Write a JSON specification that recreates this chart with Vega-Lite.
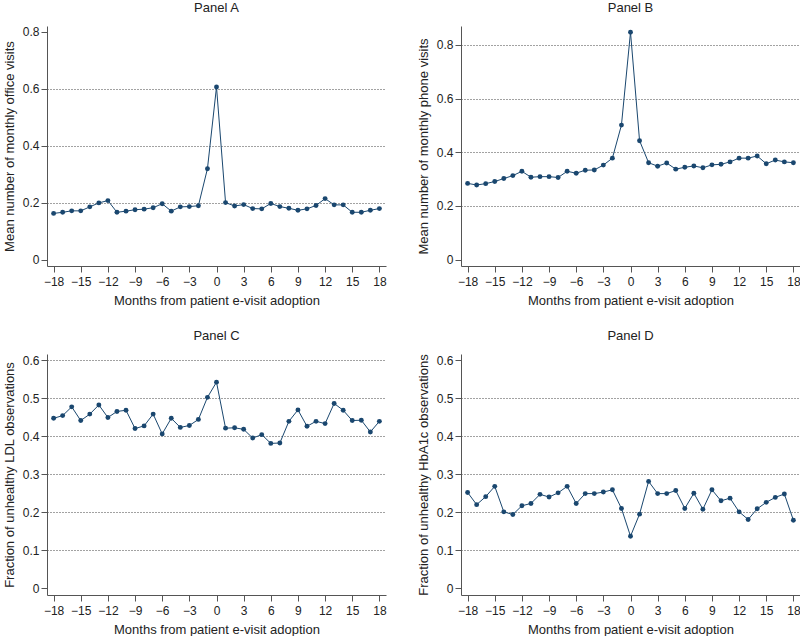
{
  "$schema": "https://vega.github.io/schema/vega-lite/v6.json",
  "padding": {"left": 3, "top": 1, "right": 0, "bottom": 0},
  "background": "white",
  "spacing": {"row": 22, "column": 30},
  "config": {
    "font": "Liberation Sans",
    "view": {"stroke": null},
    "title": {"fontSize": 13, "fontWeight": "normal", "color": "#222", "offset": 11, "anchor": "middle"},
    "axis": {
      "labelFontSize": 12, "titleFontSize": 13, "titleFontWeight": "normal",
      "labelColor": "#222", "titleColor": "#222",
      "domainColor": "#555", "tickColor": "#555", "tickSize": 6,
      "gridColor": "#444", "gridDash": [1, 2], "gridWidth": 1
    }
  },
  "data": {"values": [
    {"panel":"A","month":-18,"value":0.162},{"panel":"A","month":-17,"value":0.166},{"panel":"A","month":-16,"value":0.171},{"panel":"A","month":-15,"value":0.171},{"panel":"A","month":-14,"value":0.185},{"panel":"A","month":-13,"value":0.199},{"panel":"A","month":-12,"value":0.207},{"panel":"A","month":-11,"value":0.166},{"panel":"A","month":-10,"value":0.170},{"panel":"A","month":-9,"value":0.175},{"panel":"A","month":-8,"value":0.177},{"panel":"A","month":-7,"value":0.182},{"panel":"A","month":-6,"value":0.196},{"panel":"A","month":-5,"value":0.170},{"panel":"A","month":-4,"value":0.185},{"panel":"A","month":-3,"value":0.186},{"panel":"A","month":-2,"value":0.189},{"panel":"A","month":-1,"value":0.319},{"panel":"A","month":0,"value":0.606},{"panel":"A","month":1,"value":0.200},{"panel":"A","month":2,"value":0.188},{"panel":"A","month":3,"value":0.193},{"panel":"A","month":4,"value":0.179},{"panel":"A","month":5,"value":0.178},{"panel":"A","month":6,"value":0.197},{"panel":"A","month":7,"value":0.186},{"panel":"A","month":8,"value":0.180},{"panel":"A","month":9,"value":0.173},{"panel":"A","month":10,"value":0.178},{"panel":"A","month":11,"value":0.190},{"panel":"A","month":12,"value":0.214},{"panel":"A","month":13,"value":0.192},{"panel":"A","month":14,"value":0.192},{"panel":"A","month":15,"value":0.166},{"panel":"A","month":16,"value":0.166},{"panel":"A","month":17,"value":0.173},{"panel":"A","month":18,"value":0.179},
    {"panel":"B","month":-18,"value":0.284},{"panel":"B","month":-17,"value":0.278},{"panel":"B","month":-16,"value":0.283},{"panel":"B","month":-15,"value":0.291},{"panel":"B","month":-14,"value":0.302},{"panel":"B","month":-13,"value":0.313},{"panel":"B","month":-12,"value":0.329},{"panel":"B","month":-11,"value":0.307},{"panel":"B","month":-10,"value":0.309},{"panel":"B","month":-9,"value":0.309},{"panel":"B","month":-8,"value":0.306},{"panel":"B","month":-7,"value":0.329},{"panel":"B","month":-6,"value":0.322},{"panel":"B","month":-5,"value":0.333},{"panel":"B","month":-4,"value":0.334},{"panel":"B","month":-3,"value":0.352},{"panel":"B","month":-2,"value":0.378},{"panel":"B","month":-1,"value":0.501},{"panel":"B","month":0,"value":0.847},{"panel":"B","month":1,"value":0.443},{"panel":"B","month":2,"value":0.361},{"panel":"B","month":3,"value":0.348},{"panel":"B","month":4,"value":0.360},{"panel":"B","month":5,"value":0.337},{"panel":"B","month":6,"value":0.344},{"panel":"B","month":7,"value":0.349},{"panel":"B","month":8,"value":0.342},{"panel":"B","month":9,"value":0.353},{"panel":"B","month":10,"value":0.355},{"panel":"B","month":11,"value":0.364},{"panel":"B","month":12,"value":0.378},{"panel":"B","month":13,"value":0.378},{"panel":"B","month":14,"value":0.386},{"panel":"B","month":15,"value":0.357},{"panel":"B","month":16,"value":0.371},{"panel":"B","month":17,"value":0.364},{"panel":"B","month":18,"value":0.361},
    {"panel":"C","month":-18,"value":0.447},{"panel":"C","month":-17,"value":0.454},{"panel":"C","month":-16,"value":0.477},{"panel":"C","month":-15,"value":0.441},{"panel":"C","month":-14,"value":0.458},{"panel":"C","month":-13,"value":0.482},{"panel":"C","month":-12,"value":0.449},{"panel":"C","month":-11,"value":0.465},{"panel":"C","month":-10,"value":0.468},{"panel":"C","month":-9,"value":0.420},{"panel":"C","month":-8,"value":0.427},{"panel":"C","month":-7,"value":0.458},{"panel":"C","month":-6,"value":0.406},{"panel":"C","month":-5,"value":0.447},{"panel":"C","month":-4,"value":0.423},{"panel":"C","month":-3,"value":0.428},{"panel":"C","month":-2,"value":0.444},{"panel":"C","month":-1,"value":0.502},{"panel":"C","month":0,"value":0.542},{"panel":"C","month":1,"value":0.421},{"panel":"C","month":2,"value":0.422},{"panel":"C","month":3,"value":0.418},{"panel":"C","month":4,"value":0.395},{"panel":"C","month":5,"value":0.404},{"panel":"C","month":6,"value":0.381},{"panel":"C","month":7,"value":0.382},{"panel":"C","month":8,"value":0.439},{"panel":"C","month":9,"value":0.469},{"panel":"C","month":10,"value":0.426},{"panel":"C","month":11,"value":0.439},{"panel":"C","month":12,"value":0.433},{"panel":"C","month":13,"value":0.486},{"panel":"C","month":14,"value":0.468},{"panel":"C","month":15,"value":0.441},{"panel":"C","month":16,"value":0.442},{"panel":"C","month":17,"value":0.411},{"panel":"C","month":18,"value":0.439},
    {"panel":"D","month":-18,"value":0.252},{"panel":"D","month":-17,"value":0.220},{"panel":"D","month":-16,"value":0.241},{"panel":"D","month":-15,"value":0.268},{"panel":"D","month":-14,"value":0.201},{"panel":"D","month":-13,"value":0.194},{"panel":"D","month":-12,"value":0.217},{"panel":"D","month":-11,"value":0.223},{"panel":"D","month":-10,"value":0.247},{"panel":"D","month":-9,"value":0.240},{"panel":"D","month":-8,"value":0.251},{"panel":"D","month":-7,"value":0.268},{"panel":"D","month":-6,"value":0.223},{"panel":"D","month":-5,"value":0.249},{"panel":"D","month":-4,"value":0.249},{"panel":"D","month":-3,"value":0.253},{"panel":"D","month":-2,"value":0.259},{"panel":"D","month":-1,"value":0.210},{"panel":"D","month":0,"value":0.137},{"panel":"D","month":1,"value":0.195},{"panel":"D","month":2,"value":0.281},{"panel":"D","month":3,"value":0.249},{"panel":"D","month":4,"value":0.249},{"panel":"D","month":5,"value":0.257},{"panel":"D","month":6,"value":0.210},{"panel":"D","month":7,"value":0.250},{"panel":"D","month":8,"value":0.208},{"panel":"D","month":9,"value":0.259},{"panel":"D","month":10,"value":0.230},{"panel":"D","month":11,"value":0.237},{"panel":"D","month":12,"value":0.201},{"panel":"D","month":13,"value":0.181},{"panel":"D","month":14,"value":0.209},{"panel":"D","month":15,"value":0.226},{"panel":"D","month":16,"value":0.239},{"panel":"D","month":17,"value":0.248},{"panel":"D","month":18,"value":0.179}
  ]},
  "columns": 2,
  "resolve": {"scale": {"x": "independent", "y": "independent"}},
  "concat": [
    {
      "title": "Panel A",
      "width": 339, "height": 240,
      "transform": [{"filter": "datum.panel === 'A'"}],
      "encoding": {
        "x": {"field": "month", "type": "quantitative", "scale": {"domain": [-18.73, 18.73], "nice": false, "zero": false},
              "axis": {"values": [-18,-15,-12,-9,-6,-3,0,3,6,9,12,15,18], "labelExpr": "replace(datum.label, '-', '\u2212')", "grid": false, "title": "Months from patient e-visit adoption", "labelPadding": 4, "titlePadding": 7}},
        "y": {"field": "value", "type": "quantitative", "scale": {"domain": [-0.0226, 0.82], "nice": false, "zero": false},
              "axis": {"values": [0, 0.2, 0.4, 0.6, 0.8], "format": ".1~f", "title": "Mean number of monthly office visits", "labelPadding": 2, "titlePadding": 6,
                       "gridOpacity": {"condition": {"test": "datum.value === 0 || datum.value === 0.8", "value": 0}, "value": 1}}}
      },
      "layer": [
        {"mark": {"type": "line", "color": "#1a476f", "strokeWidth": 1}},
        {"mark": {"type": "point", "filled": true, "color": "#1a476f", "size": 24, "opacity": 1}}
      ]
    },
    {
      "title": "Panel B",
      "width": 339, "height": 240,
      "transform": [{"filter": "datum.panel === 'B'"}],
      "encoding": {
        "x": {"field": "month", "type": "quantitative", "scale": {"domain": [-18.73, 18.73], "nice": false, "zero": false},
              "axis": {"values": [-18,-15,-12,-9,-6,-3,0,3,6,9,12,15,18], "labelExpr": "replace(datum.label, '-', '\u2212')", "grid": false, "title": "Months from patient e-visit adoption", "labelPadding": 4, "titlePadding": 7}},
        "y": {"field": "value", "type": "quantitative", "scale": {"domain": [-0.0236, 0.87], "nice": false, "zero": false},
              "axis": {"values": [0, 0.2, 0.4, 0.6, 0.8], "format": ".1~f", "title": "Mean number of monthly phone visits", "labelPadding": 2, "titlePadding": 6,
                       "gridOpacity": {"condition": {"test": "datum.value === 0", "value": 0}, "value": 1}}}
      },
      "layer": [
        {"mark": {"type": "line", "color": "#1a476f", "strokeWidth": 1}},
        {"mark": {"type": "point", "filled": true, "color": "#1a476f", "size": 24, "opacity": 1}}
      ]
    },
    {
      "title": "Panel C",
      "width": 339, "height": 241,
      "transform": [{"filter": "datum.panel === 'C'"}],
      "encoding": {
        "x": {"field": "month", "type": "quantitative", "scale": {"domain": [-18.73, 18.73], "nice": false, "zero": false},
              "axis": {"values": [-18,-15,-12,-9,-6,-3,0,3,6,9,12,15,18], "labelExpr": "replace(datum.label, '-', '\u2212')", "grid": false, "title": "Months from patient e-visit adoption", "labelPadding": 4, "titlePadding": 7}},
        "y": {"field": "value", "type": "quantitative", "scale": {"domain": [-0.0176, 0.616], "nice": false, "zero": false},
              "axis": {"values": [0, 0.1, 0.2, 0.3, 0.4, 0.5, 0.6], "format": ".1~f", "title": "Fraction of unhealthy LDL observations", "labelPadding": 2, "titlePadding": 6,
                       "gridOpacity": {"condition": {"test": "datum.value === 0", "value": 0}, "value": 1}}}
      },
      "layer": [
        {"mark": {"type": "line", "color": "#1a476f", "strokeWidth": 1}},
        {"mark": {"type": "point", "filled": true, "color": "#1a476f", "size": 24, "opacity": 1}}
      ]
    },
    {
      "title": "Panel D",
      "width": 339, "height": 241,
      "transform": [{"filter": "datum.panel === 'D'"}],
      "encoding": {
        "x": {"field": "month", "type": "quantitative", "scale": {"domain": [-18.73, 18.73], "nice": false, "zero": false},
              "axis": {"values": [-18,-15,-12,-9,-6,-3,0,3,6,9,12,15,18], "labelExpr": "replace(datum.label, '-', '\u2212')", "grid": false, "title": "Months from patient e-visit adoption", "labelPadding": 4, "titlePadding": 7}},
        "y": {"field": "value", "type": "quantitative", "scale": {"domain": [-0.0176, 0.616], "nice": false, "zero": false},
              "axis": {"values": [0, 0.1, 0.2, 0.3, 0.4, 0.5, 0.6], "format": ".1~f", "title": "Fraction of unhealthy HbA1c observations", "labelPadding": 2, "titlePadding": 6,
                       "gridOpacity": {"condition": {"test": "datum.value === 0 || datum.value === 0.6", "value": 0}, "value": 1}}}
      },
      "layer": [
        {"mark": {"type": "line", "color": "#1a476f", "strokeWidth": 1}},
        {"mark": {"type": "point", "filled": true, "color": "#1a476f", "size": 24, "opacity": 1}}
      ]
    }
  ]
}
